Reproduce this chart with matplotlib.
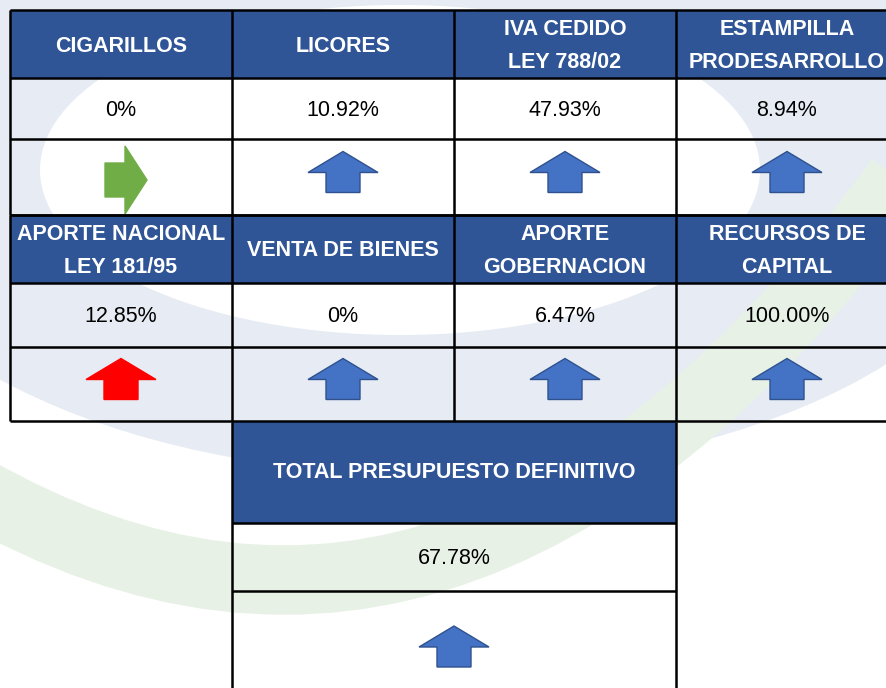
import matplotlib
matplotlib.use("Agg")
import matplotlib.pyplot as plt
from matplotlib.patches import Rectangle, Polygon, Ellipse, PathPatch
from matplotlib.path import Path

# ---------------- data ----------------
categories = ["CIGARILLOS", "LICORES", "IVA CEDIDO\nLEY 788/02", "ESTAMPILLA\nPRODESARROLLO",
              "APORTE NACIONAL\nLEY 181/95", "VENTA DE BIENES", "APORTE\nGOBERNACION",
              "RECURSOS DE\nCAPITAL"]
values = [0, 10.92, 47.93, 8.94, 12.85, 0, 6.47, 100.00]
directions = ["right", "up", "up", "up", "up", "up", "up", "up"]
arrow_colors = ["#70AD47", "#4472C4", "#4472C4", "#4472C4", "#FF0000", "#4472C4", "#4472C4", "#4472C4"]
total_label = "TOTAL PRESUPUESTO DEFINITIVO"
total_value = 67.78
total_direction = "up"
total_color = "#4472C4"

def fmt(v):
    return "0%" if v == 0 else f"{v:.2f}%"

HEADER = "#2F5597"
EDGE = {"#4472C4": "#2F528F", "#70AD47": "#70AD47", "#FF0000": "#FF0000"}

fig = plt.figure(figsize=(8.86, 6.88), dpi=100)
ax = fig.add_axes([0, 0, 1, 1])
ax.set_xlim(0, 886)
ax.set_ylim(688, 0)
ax.axis("off")

# ---------------- watermark ----------------
ax.add_patch(Ellipse((430, 175), 1176, 600, color="#E7ECF4", lw=0, zorder=0))
ax.add_patch(Ellipse((400, 170), 720, 330, color="white", lw=0, zorder=0.1))
green = Path([(-60, 470), (450, 790), (900, 180)], [Path.MOVETO, Path.CURVE3, Path.CURVE3])
ax.add_patch(PathPatch(green, fc="none", ec="#E8F1E6", lw=50, capstyle="butt", zorder=0.2))

# ---------------- grid geometry ----------------
col_edges = [10, 232, 454, 676, 898]
blocks = [(10, 78, 139, 215), (215, 283, 347, 421)]  # header top, header bottom, value bottom, arrow bottom

def arrow(cx, cy, direction, color):
    if direction == "up":
        w, h, hh, sw = 70, 41, 21, 34
        top = cy - h / 2
        pts = [(cx, top), (cx + w / 2, top + hh), (cx + sw / 2, top + hh), (cx + sw / 2, top + h),
               (cx - sw / 2, top + h), (cx - sw / 2, top + hh), (cx - w / 2, top + hh)]
    else:
        L, H, hl, sh = 42, 68, 22, 34
        left = cx - L / 2
        pts = [(left + L, cy), (left + L - hl, cy - H / 2), (left + L - hl, cy - sh / 2), (left, cy - sh / 2),
               (left, cy + sh / 2), (left + L - hl, cy + sh / 2), (left + L - hl, cy + H / 2)]
    ax.add_patch(Polygon(pts, closed=True, fc=color, ec=EDGE[color], lw=1.0, zorder=3))

hfont = dict(family=["Liberation Sans", "DejaVu Sans"], weight="bold", color="white", size=15.5)
vfont = dict(family=["Liberation Sans Narrow", "Liberation Sans", "DejaVu Sans"], color="black", size=15.5)

for bi, (ht, hb, vb, ab) in enumerate(blocks):
    for ci in range(4):
        k = bi * 4 + ci
        x0, x1 = col_edges[ci], col_edges[ci + 1]
        cx = (x0 + x1) / 2
        ax.add_patch(Rectangle((x0, ht), x1 - x0, hb - ht, fc=HEADER, lw=0, zorder=1))
        ax.text(cx, (ht + hb) / 2 + 2, categories[k], ha="center", va="center",
                linespacing=1.75, zorder=4, **hfont)
        ax.text(cx, (hb + vb) / 2 + 2, fmt(values[k]), ha="center", va="center", zorder=4, **vfont)
        if directions[k] == "up":
            arrow(cx, (vb + ab) / 2 - 5, "up", arrow_colors[k])
        else:
            arrow(cx + 5, (vb + ab) / 2 + 3, "right", arrow_colors[k])
    ys = [ht, hb, vb, ab]
    ax.hlines(ys, 10, 898, colors="black", lw=1.8, zorder=5)
    ax.vlines(col_edges, ht, ab, colors="black", lw=1.8, zorder=5)

# ---------------- total block ----------------
tx0, tx1 = 232, 676
tht, thb, tvb, tab = 422, 523, 591, 700
tcx = (tx0 + tx1) / 2
ax.add_patch(Rectangle((tx0, tht), tx1 - tx0, thb - tht, fc=HEADER, lw=0, zorder=1))
ax.text(tcx, (tht + thb) / 2, total_label, ha="center", va="center", zorder=4, **hfont)
ax.text(tcx, (thb + tvb) / 2 + 2, fmt(total_value), ha="center", va="center", zorder=4, **vfont)
arrow(tcx, 646.5, total_direction, total_color)
ax.hlines([thb, tvb], tx0, tx1, colors="black", lw=1.8, zorder=5)
ax.vlines([tx0, tx1], tht, tab, colors="black", lw=1.8, zorder=5)

fig.savefig("out.png", dpi=100)
